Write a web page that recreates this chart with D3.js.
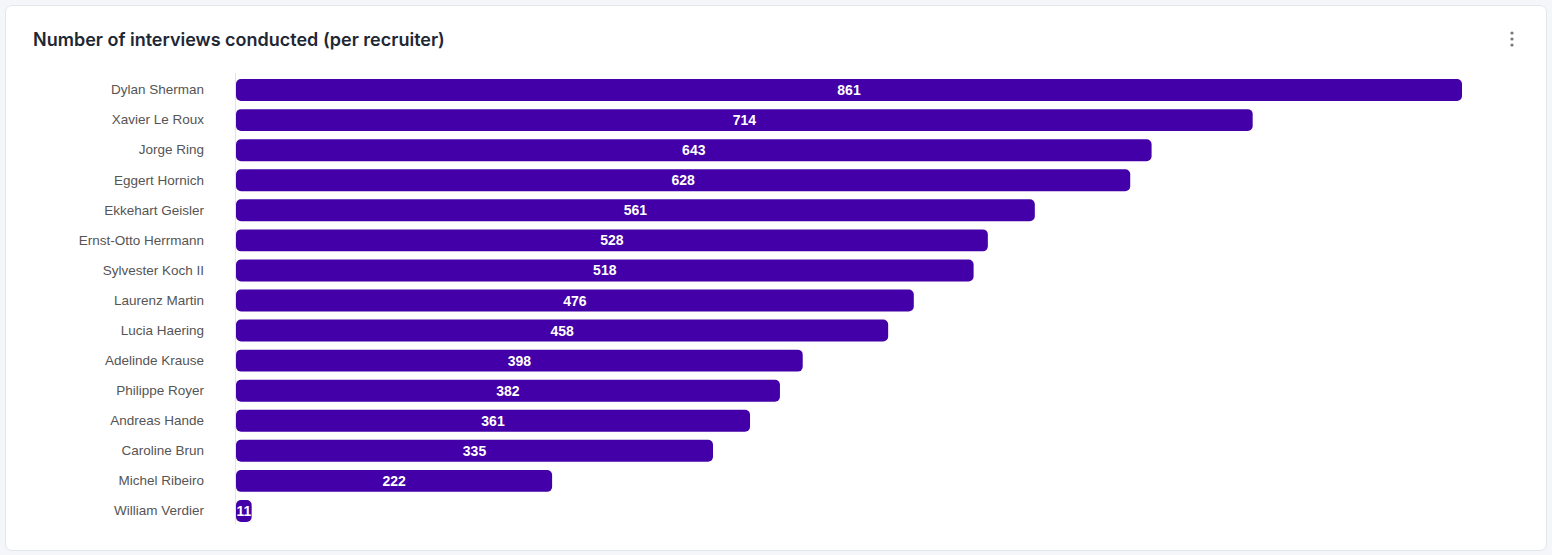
<!DOCTYPE html>
<html>
<head>
<meta charset="utf-8">
<script src="https://cdn.jsdelivr.net/npm/d3@7"></script>
<style>
  html, body { margin: 0; padding: 0; background: #f4f6f9; }
  body { width: 1552px; height: 555px; overflow: hidden; font-family: Inter, "Noto Sans", sans-serif; }
  #card {
    position: absolute; left: 5px; top: 5px; width: 1540px; height: 544px;
    background: #fff; border: 1px solid #e3e6ea; border-radius: 7px;
  }
</style>
</head>
<body>
<div id="card"></div>
<script>
// data
var recruiters = ['Dylan Sherman', 'Xavier Le Roux', 'Jorge Ring', 'Eggert Hornich',
  'Ekkehart Geisler', 'Ernst-Otto Herrmann', 'Sylvester Koch II', 'Laurenz Martin',
  'Lucia Haering', 'Adelinde Krause', 'Philippe Royer', 'Andreas Hande',
  'Caroline Brun', 'Michel Ribeiro', 'William Verdier'];
var interviews = [861, 714, 643, 628, 561, 528, 518, 476, 458, 398, 382, 361, 335, 222, 11];

var chartTitle = 'Number of interviews conducted (per recruiter)';

var width  = 1552;
var height = 555;

var svg = d3.select('body')
  .append('svg')
  .style('position', 'absolute')
  .style('left', 0)
  .style('top', 0)
  .attr('width', width)
  .attr('height', height);

// title
svg.append('text')
  .attr('x', 33)
  .attr('y', 46)
  .attr('font-family', 'Inter, sans-serif')
  .attr('font-size', '18px')
  .attr('font-weight', 600)
  .attr('fill', '#1e2734')
  .text(chartTitle);

// kebab menu
svg.append('g')
  .selectAll('circle')
  .data([33, 39, 45])
  .enter()
  .append('circle')
  .attr('cx', 1512)
  .attr('cy', function(d) { return d; })
  .attr('r', 1.6)
  .attr('fill', '#777');

var points = recruiters.map(function(name, i) {
  return { name: name, value: interviews[i] };
});

// scales
var xScale = d3.scaleLinear()
  .domain([0, d3.max(interviews)])
  .range([236, 1462]);

var yScale = d3.scaleBand()
  .domain(recruiters)
  .range([75, 526])
  .paddingInner(0.27)
  .paddingOuter(0.135);

// y axis: just the labels and the baseline
var yAxis = d3.axisLeft(yScale).tickSize(0).tickPadding(31);
var yGuide = svg.append('g')
  .attr('transform', 'translate(235,0)')
  .call(yAxis);
yGuide.select('.domain')
  .attr('stroke', '#e4e4e4')
  .attr('d', 'M0.5,' + 73 + 'V' + 524);
yGuide.selectAll('text')
  .attr('font-family', 'Arial, "Liberation Sans", sans-serif')
  .attr('font-size', '13.5px')
  .attr('fill', '#555');

// bars
var bars = svg.append('g')
  .selectAll('rect')
  .data(points)
  .enter()
  .append('rect')
  .attr('x', xScale(0))
  .attr('y', function(d) { return yScale(d.name); })
  .attr('width', function(d) { return xScale(d.value) - xScale(0); })
  .attr('height', yScale.bandwidth())
  .attr('rx', 5)
  .attr('fill', '#4300a8');

// value labels
svg.append('g')
  .selectAll('text')
  .data(points)
  .enter()
  .append('text')
  .attr('x', function(d) { return (xScale(0) + xScale(d.value)) / 2; })
  .attr('y', function(d) { return yScale(d.name) + yScale.bandwidth() / 2; })
  .attr('dy', '0.36em')
  .attr('text-anchor', 'middle')
  .attr('font-family', 'Arial, "Liberation Sans", sans-serif')
  .attr('font-size', '14px')
  .attr('font-weight', 'bold')
  .attr('fill', '#fff')
  .text(function(d) { return d.value; });
</script>
</body>
</html>
